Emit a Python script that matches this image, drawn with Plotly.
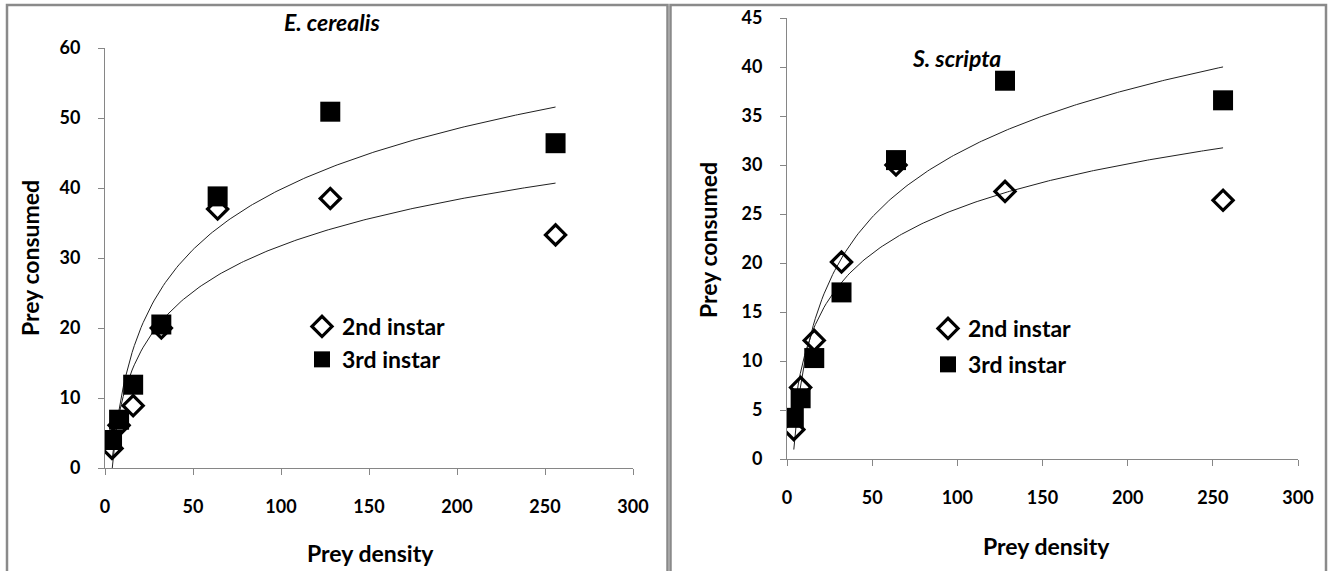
import numpy as np
import plotly.graph_objects as go

# ---------------- data ----------------
density = [4, 8, 16, 32, 64, 128, 256]
ec_2nd = [2.8, 6.1, 8.9, 20.0, 37.0, 38.5, 33.3]
ec_3rd = [4.0, 6.9, 11.9, 20.5, 38.8, 50.9, 46.4]
ss_2nd = [3.0, 7.3, 12.1, 20.1, 30.0, 27.3, 26.4]
ss_3rd = [4.2, 6.2, 10.3, 17.0, 30.5, 38.6, 36.6]
titles = ["E. cerealis", "S. scripta"]
series_names = ["2nd instar", "3rd instar"]
x_ticks = [0, 50, 100, 150, 200, 250, 300]

W, H = 1331, 571
FONT = "Lato"
GRAY = "#868686"


def px(x):
    return x / W


def py(y):
    return 1 - y / H


def log_trend(x, y):
    a, b = np.polyfit(np.log(x), y, 1)
    xs = np.linspace(min(x), max(x), 200)
    return xs, a * np.log(xs) + b


fig = go.Figure()

panels = [
    dict(x2=ec_2nd, x3=ec_3rd, xa="x", ya="y", legend="legend"),
    dict(x2=ss_2nd, x3=ss_3rd, xa="x2", ya="y2", legend="legend2"),
]

for p in panels:
    for ys in (p["x3"], p["x2"]):
        tx, ty = log_trend(density, ys)
        fig.add_trace(go.Scatter(x=tx, y=ty, mode="lines", xaxis=p["xa"], yaxis=p["ya"],
                                 line=dict(color="#202020", width=1), showlegend=False,
                                 hoverinfo="skip"))
    fig.add_trace(go.Scatter(x=density, y=p["x2"], mode="markers", name=series_names[0],
                             xaxis=p["xa"], yaxis=p["ya"], legend=p["legend"], legendgroup="a",
                             marker=dict(symbol="diamond-open", size=15.5, color="black",
                                         line=dict(color="black", width=3.2))))
    fig.add_trace(go.Scatter(x=density, y=p["x3"], mode="markers", name=series_names[1],
                             xaxis=p["xa"], yaxis=p["ya"], legend=p["legend"], legendgroup="b",
                             marker=dict(symbol="square", size=20, color="black",
                                         line=dict(width=0))))

axis_common = dict(showline=True, linecolor=GRAY, linewidth=1, ticks="outside", ticklen=6,
                   tickcolor=GRAY, tickwidth=1, showgrid=False, zeroline=False,
                   automargin=False,
                   tickfont=dict(family=FONT, size=18, color="black", weight="bold"))

fig.update_layout(
    template="none",
    width=W, height=H,
    margin=dict(l=0, r=0, t=0, b=0, pad=0, autoexpand=False),
    paper_bgcolor="white", plot_bgcolor="rgba(0,0,0,0)",
    xaxis=dict(domain=[px(105), px(633)], range=[0, 300], tickvals=x_ticks, anchor="y",
               ticklabelstandoff=16, **axis_common),
    yaxis=dict(domain=[py(468), py(48)], range=[0, 60], dtick=10, anchor="x",
               ticklabelstandoff=14, **axis_common),
    xaxis2=dict(domain=[px(787), px(1298)], range=[0, 300], tickvals=x_ticks, anchor="y2",
                ticklabelstandoff=16, **axis_common),
    yaxis2=dict(domain=[py(459), py(18)], range=[0, 45], dtick=5, anchor="x2",
                ticklabelstandoff=14, **axis_common),
    legend=dict(x=px(302), y=py(305), xanchor="left", yanchor="top", bgcolor="rgba(0,0,0,0)",
                font=dict(family=FONT, size=23, color="black", weight="bold"),
                tracegroupgap=0, itemwidth=30),
    legend2=dict(x=px(928), y=py(307), xanchor="left", yanchor="top", bgcolor="rgba(0,0,0,0)",
                 font=dict(family=FONT, size=23, color="black", weight="bold"),
                 tracegroupgap=3, itemwidth=30),
    showlegend=True,
)

ann_font = dict(family=FONT, size=23, color="black", weight="bold")
annotations = [
    dict(text="<i>" + titles[0] + "</i>", x=px(332), y=py(22)),
    dict(text="<i>" + titles[1] + "</i>", x=px(956), y=py(58)),
    dict(text="Prey consumed", x=px(30), y=py(258), textangle=-90),
    dict(text="Prey consumed", x=px(708), y=py(240), textangle=-90),
    dict(text="Prey density", x=px(370), y=py(553)),
    dict(text="Prey density", x=px(1046), y=py(546)),
]
for a in annotations:
    a.update(xref="paper", yref="paper", showarrow=False, xanchor="center", yanchor="middle",
             font=ann_font)
fig.update_layout(annotations=annotations)

# panel borders (Excel chart-area frames)
border = dict(color="#8a8a8a", width=2.5)
shapes = [
    dict(type="rect", x0=px(7), x1=px(667.5), y0=py(575), y1=py(5), line=border),
    dict(type="rect", x0=px(670.5), x1=px(1326), y0=py(575), y1=py(5), line=border),
]
for s in shapes:
    s.update(xref="paper", yref="paper", fillcolor="rgba(0,0,0,0)", layer="below")
fig.update_layout(shapes=shapes)

fig.write_html("out.html", config={"displayModeBar": False},
               post_script="document.body.style.margin='0';document.body.style.overflow='hidden';")
